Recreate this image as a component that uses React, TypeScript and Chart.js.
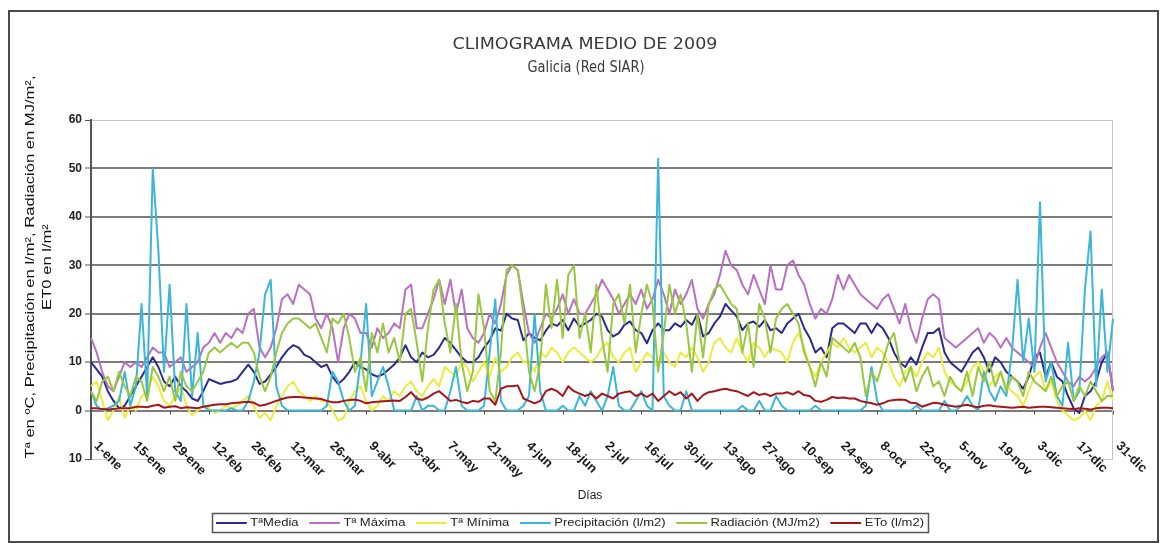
import React, { useEffect, useRef } from 'react';
import { Chart, registerables } from 'chart.js';

Chart.register(...registerables);

// Tick labels every 14 days (every 7th point, points are every 2 days)
const TICK_LABELS = [
  '1-ene', '15-ene', '29-ene', '12-feb', '26-feb', '12-mar', '26-mar', '9-abr', '23-abr',
  '7-may', '21-may', '4-jun', '18-jun', '2-jul', '16-jul', '30-jul', '13-ago', '27-ago',
  '10-sep', '24-sep', '8-oct', '22-oct', '5-nov', '19-nov', '3-dic', '17-dic', '31-dic',
];

const SERIES_NAMES = [
  'TªMedia', 'Tª Máxima', 'Tª Mínima', 'Precipitación (l/m2)', 'Radiación (MJ/m2)', 'ETo (l/m2)',
];

const T_MEDIA = [
  10, 8.5, 7, 4, 2, 0.5, 1, 3, 5, 7,
  9, 11, 9, 6, 5, 7, 5, 4, 2.5, 2,
  4, 6.5, 6, 5.5, 5.8, 6, 6.5, 8, 9.5, 8,
  5.5, 6, 7.5, 9, 11, 12.5, 13.5, 13, 11.5, 11,
  10, 9, 9.5, 7, 5.5, 6.5, 8, 10, 9, 8.5,
  7.5, 7, 7.5, 8.5, 9.5, 11, 13.5, 11, 10, 12,
  11, 11.5, 13, 15, 14, 12.5, 11, 10, 10, 11,
  13, 14.5, 17, 16.5, 20, 19, 18.7, 14.5, 16, 15,
  14.5, 16.5, 18, 17.5, 18.7, 16.6, 19, 17.3, 18, 18.7,
  20, 19.4, 16.6, 15.3, 16, 17.7, 18.4, 16.6, 16, 13.9,
  16.6, 18, 16.6, 16.6, 18, 17.3, 18.7, 17.7, 20, 15.3,
  16, 18, 19.4, 22, 20.7, 19.4, 16.6, 18, 18.4, 17.3,
  18.7, 16.6, 17, 16, 18, 19, 20, 17, 15, 12,
  13, 11, 17, 18, 18, 17, 16, 18, 18, 16,
  18, 17, 15, 12, 10, 9, 11, 9.5, 13, 16,
  16, 17, 12, 10, 9, 8, 10, 12, 13, 11,
  8, 11, 10, 8, 7, 6, 4.5, 7, 11, 12,
  7, 10, 7, 6, 3, 0.5, -0.5, 3, 4, 6,
  10, 12, 4,
];

const T_MAXIMA = [
  15, 12, 8, 5, 4, 7, 10, 9, 10, 9,
  11, 13, 12, 12, 9, 10, 11, 8, 9, 10,
  13, 14, 16, 14, 16, 15, 17, 16, 20, 21,
  13, 11, 13, 17, 23, 24, 22, 26, 25, 24,
  19, 17, 20, 17, 10, 17, 20, 19, 16, 16,
  13, 17, 15, 16, 18, 17, 25, 26, 17, 17,
  20, 23, 27, 22, 27, 20, 25, 17, 15, 14,
  16, 20, 18, 22, 28, 30, 29, 22, 16, 14,
  17, 20, 19, 21, 24, 20, 23, 20, 20, 22,
  24, 27, 25, 23, 20, 22, 24, 22, 25, 21,
  23, 27, 24, 20, 25, 22, 24, 27, 21, 19,
  22, 24, 28, 33, 30, 29, 26, 24, 28, 25,
  22, 30, 25, 25, 30, 31, 28, 26, 22, 19,
  21, 20, 23, 28, 25, 28, 26, 24, 23, 22,
  21, 23, 24, 21, 18, 22, 17, 14, 19, 23,
  24, 23, 15, 14, 13, 14, 15, 16, 17, 14,
  16, 15, 13, 15, 13, 12, 11, 10, 9, 13,
  16, 13, 10, 8, 6, 5, 7, 6, 7, 9,
  11, 12, 4,
];

const T_MINIMA = [
  5, 6, 2, -2, 0, 3, -1.5, 1, 0, 3,
  4, 7, 5, 2, 1, 3, 5, 1, -1, 0,
  1, 0.5, -0.5, 0, 1, 0.5, 1, 2, 3, 1,
  -1.5, -0.5, -2, 1, 3, 5, 6, 4, 3, 2,
  3, 2, 2, 0, -2, -1.5, 2, 4, 5, 2,
  0, 1, 3, 2, 4, 3, 5, 6, 4, 3,
  5, 6.5, 5, 9, 8, 7, 10, 9, 6, 8,
  10, 7, 11, 8, 9, 11, 12, 10, 10, 8,
  12, 11, 13, 12, 10, 12, 13, 12, 11, 10,
  11, 13, 14, 11, 10, 12, 13, 8, 10, 12,
  11, 9, 12, 10, 9, 12, 11, 13, 11, 8,
  10, 14, 15, 13, 12, 15, 12, 10, 14, 13,
  11, 13, 12.5, 12, 10, 14, 16, 13, 9, 7,
  10, 12, 14, 13, 15, 13, 12, 13, 14, 11,
  13, 12, 10, 7, 5, 8, 9, 7, 10, 12,
  11, 13, 8, 6, 5, 4, 6, 9, 10, 8,
  5, 7, 8, 5, 4, 3, 1, 4, 7, 8,
  4, 6, 2, 0, -1, -2, -1.5, 0, -2, 1,
  2, 6, 2,
];

const PRECIPITACION = [
  4, 1, 0, 0.5, 1, 2, 8, 1, 5, 22,
  3, 50, 33, 8, 26, 4, 2, 22, 3, 16,
  1, 0, 0, 0, 0, 0.5, 0, 0, 2, 6,
  12, 24, 27, 5, 1, 0, 0, 0, 0, 0,
  0, 0, 1, 8, 6, 2, 0, 1, 10, 22,
  3, 6, 9, 5, 0, 0, 0, 0, 3, 0,
  1, 1, 0, 0, 4, 9, 1, 0, 0, 0,
  1, 12, 23, 2, 0, 0, 0, 1, 3, 20,
  4, 0, 0, 0, 1, 0, 0, 3, 1, 4,
  2, 0, 3, 9, 1, 0, 0, 2, 4, 1,
  0, 52, 3, 1, 0, 0, 4, 0, 0, 0,
  0, 0, 0, 0, 0, 0, 1, 0, 0, 2,
  0, 0, 3, 1, 0, 0, 0, 0, 0, 1,
  0, 0, 0, 0, 0, 0, 0, 0, 1, 9,
  2, 0, 0, 0, 0, 0, 0, 1, 0, 0,
  0, 0, 2, 0, 0, 1, 3, 1, 0, 8,
  4, 2, 5, 3, 12, 27, 10, 19, 8, 43,
  6, 10, 3, 1, 14, 2, 4, 25, 37, 5,
  25, 8, 19,
];

const RADIACION = [
  4, 2, 6, 7, 4, 8, 5, 3, 7, 6,
  2, 9, 7, 4, 7, 2, 8, 5, 4, 6,
  8, 12, 13, 12, 13, 14, 13, 14, 14, 12,
  7, 4, 7, 12, 16, 18, 19, 19, 18, 17,
  18, 15, 12, 19, 18, 20, 15, 8, 11, 4,
  16, 12, 18, 12, 15, 10, 20, 21, 14, 6,
  17, 25, 27, 18, 12, 22, 10, 4, 8, 24,
  17, 4, 2, 12, 29, 30, 29, 20, 8, 4,
  10, 26, 17, 27, 15, 28, 30, 15, 20, 12,
  26, 15, 8, 22, 24, 18, 26, 12, 20, 26,
  22, 8, 16, 26, 20, 24, 18, 8, 20, 11,
  22, 25, 26, 24, 22, 21, 12, 18, 9, 22,
  19, 12, 19, 21, 22, 20, 18, 12, 9, 5,
  10, 7, 15, 14, 13, 12, 14, 11, 3, 8,
  6, 10, 14, 16, 10, 6, 9, 4, 7, 9,
  5, 6, 3, 7, 5, 4, 8, 3, 9, 6,
  10, 5, 8, 4, 7, 6, 3, 8, 6, 5,
  4, 7, 3, 5, 6, 2, 5, 3, 6, 4,
  2, 3, 3,
];

const ETO = [
  0.5, 0.5, 0.3, 0.2, 0.3, 0.5, 0.5, 0.5, 0.8, 0.8,
  0.7, 1, 1.2, 0.6, 0.8, 0.9, 0.5, 0.7, 0.6, 0.5,
  0.8, 1, 1.2, 1.3, 1.3, 1.5, 1.6, 1.7, 1.8, 1.6,
  1, 1.2, 1.6, 2, 2.4, 2.7, 2.8, 2.8, 2.7, 2.6,
  2.5, 2.4, 2, 1.7, 1.7, 2, 2.2, 2.3, 2, 1.5,
  1.7, 1.8, 1.9, 2, 2.1, 2, 2.8, 3.8, 2.5, 2.2,
  2.7, 3.5, 4, 3, 2, 2.2, 1.8, 1.5, 2, 1.8,
  2.5, 2.5, 1.2, 4.5, 5, 5, 5.2, 2.5, 2, 1.5,
  2, 4, 4.5, 4, 3, 5, 4, 3.5, 3, 3.5,
  2.5, 3.5, 3, 2.5, 3.5, 3.8, 4, 3, 3.5, 2.8,
  3.5, 2, 3, 4, 3.2, 3.8, 2.5, 3.5, 2, 3.2,
  3.8, 4, 4.3, 4.5, 4.2, 4, 3.5, 3, 3.8, 3.2,
  3.5, 3, 3.5, 3.5, 3.8, 3.3, 4, 3.2, 3, 2,
  1.8, 2.2, 2.8, 2.6, 2.7, 2.5, 2.5, 2, 1.7, 1.5,
  1.2, 1.5, 2, 2.2, 2.3, 2.2, 1.6, 1.5, 0.8, 1.2,
  1.6, 1.5, 1.2, 1, 0.8, 1, 1.2, 0.9, 0.7, 1,
  1.1, 0.9, 0.8, 0.7, 0.6, 0.7, 0.8, 0.6, 0.7, 0.8,
  0.8, 0.7, 0.6, 0.5, 0.4, 0.3, 0.5, 0.4, 0.2, 0.5,
  0.6, 0.6, 0.5,
];

const COLORS = ['#2b2b8e', '#b96fc4', '#ecec3e', '#3cb6d8', '#98c840', '#a4161c'];

// Day of year of each point (every second day)
const DAYS = T_MEDIA.map((_, i) => 1 + 2 * i);

const FONT = '"Liberation Sans", Arial, sans-serif';

function fitText(ctx: CanvasRenderingContext2D, text: string, x: number, y: number, width: number) {
  const w = ctx.measureText(text).width;
  const s = width / w;
  ctx.save();
  ctx.translate(x, y);
  ctx.scale(s, 1);
  ctx.textAlign = 'center';
  ctx.fillText(text, 0, 0);
  ctx.restore();
}

const overlay = {
  id: 'overlay',
  beforeDatasetsDraw(chart: any) {
    const ctx = chart.ctx as CanvasRenderingContext2D;
    const a = chart.chartArea;
    ctx.save();
    ctx.strokeStyle = '#c4c4c4';
    ctx.lineWidth = 1;
    ctx.beginPath();
    ctx.moveTo(a.right - 0.5, a.top);
    ctx.lineTo(a.right - 0.5, a.bottom);
    ctx.stroke();
    ctx.restore();
  },
  afterDraw(chart: any) {
    const ctx = chart.ctx as CanvasRenderingContext2D;
    const xs = chart.scales.x;
    const ys = chart.scales.y;
    ctx.save();

    // outer frame
    ctx.strokeStyle = '#4a4a4a';
    ctx.lineWidth = 2;
    ctx.strokeRect(9, 11, 1149, 531);

    // titles
    ctx.fillStyle = '#3a3a3a';
    ctx.textBaseline = 'middle';
    ctx.font = `15px "DejaVu Sans", ${FONT}`;
    fitText(ctx, 'CLIMOGRAMA MEDIO DE 2009', 585, 45, 265);
    fitText(ctx, 'Galicia (Red SIAR)', 586, 68, 117);

    // y-axis title (rotated)
    ctx.fillStyle = '#111';
    ctx.font = `13px ${FONT}`;
    const l1 = 'Tª en ºC, Precipitación en l/m², Radiación en MJ/m²,';
    const l2 = 'ET0 en l/m²';
    const w1 = ctx.measureText(l1).width;
    const s = 383 / w1;
    ctx.save();
    ctx.translate(30, 267);
    ctx.rotate(-Math.PI / 2);
    ctx.scale(s, 1);
    ctx.textAlign = 'center';
    ctx.fillText(l1, 0, 0);
    ctx.fillText(l2, 0, 17);
    ctx.restore();

    // x tick marks on the 0 line
    const y0 = ys.getPixelForValue(0);
    ctx.strokeStyle = '#555';
    ctx.lineWidth = 1;
    TICK_LABELS.forEach((_, k) => {
      const x = Math.round(xs.getPixelForValue(k * 7)) + 0.5;
      ctx.beginPath();
      ctx.moveTo(x, y0);
      ctx.lineTo(x, y0 + 4);
      ctx.stroke();
    });

    // x tick labels rotated 45° clockwise
    ctx.fillStyle = '#1a1a1a';
    ctx.font = `bold 13px ${FONT}`;
    ctx.textAlign = 'left';
    ctx.textBaseline = 'middle';
    TICK_LABELS.forEach((lab, k) => {
      const x = xs.getPixelForValue(k * 7);
      ctx.save();
      ctx.translate(x + 5, 444);
      ctx.rotate(Math.PI / 4);
      ctx.fillText(lab, 0, 0);
      ctx.restore();
    });

    // x axis title
    ctx.fillStyle = '#222';
    ctx.font = `12px ${FONT}`;
    ctx.textAlign = 'center';
    ctx.fillText('Días', 590, 496);

    // legend
    const boxL = 212, boxR = 928, boxT = 513, boxB = 532;
    ctx.font = `11px ${FONT}`;
    const lineLen = 26, gapA = 3, gapB = 9;
    let total = 0;
    SERIES_NAMES.forEach((n) => { total += lineLen + gapA + ctx.measureText(n).width + gapB; });
    total -= gapB;
    const f = (boxR - boxL - 8) / total;
    ctx.strokeStyle = '#555';
    ctx.lineWidth = 1.5;
    ctx.strokeRect(boxL + 0.5, boxT + 0.5, boxR - boxL, boxB - boxT);
    const cy = (boxT + boxB) / 2 + 0.5;
    ctx.save();
    ctx.translate(boxL + 4, 0);
    ctx.scale(f, 1);
    let x = 0;
    ctx.textAlign = 'left';
    ctx.textBaseline = 'middle';
    SERIES_NAMES.forEach((n, i) => {
      ctx.strokeStyle = COLORS[i];
      ctx.lineWidth = 2;
      ctx.beginPath();
      ctx.moveTo(x, cy);
      ctx.lineTo(x + lineLen, cy);
      ctx.stroke();
      x += lineLen + gapA;
      ctx.fillStyle = '#222';
      ctx.fillText(n, x, cy);
      x += ctx.measureText(n).width + gapB;
    });
    ctx.restore();

    ctx.restore();
  },
};

export default function App() {
  const ref = useRef<HTMLCanvasElement>(null);
  useEffect(() => {
    if (!ref.current) return;
    Chart.defaults.font.family = FONT;
    const series = [T_MEDIA, T_MAXIMA, T_MINIMA, PRECIPITACION, RADIACION, ETO];
    const chart = new Chart(ref.current, {
      type: 'line',
      data: {
        labels: DAYS,
        datasets: series.map((d, i) => ({
          label: SERIES_NAMES[i],
          data: d,
          borderColor: COLORS[i],
          backgroundColor: COLORS[i],
          borderWidth: 2,
          pointRadius: 0,
          tension: 0,
          fill: false,
          borderJoinStyle: 'round' as const,
          order: 5 - i,
        })),
      },
      options: {
        animation: false,
        responsive: false,
        maintainAspectRatio: false,
        events: [],
        layout: { padding: { left: 0, top: 120, right: 53, bottom: 84 } },
        plugins: {
          legend: { display: false },
          title: { display: false },
          tooltip: { enabled: false },
        },
        scales: {
          x: {
            type: 'category',
            display: false,
            offset: false,
          },
          y: {
            min: -10,
            max: 60,
            afterFit: (sc: any) => { sc.width = 91; },
            ticks: {
              stepSize: 10,
              padding: 3,
              color: '#222',
              font: { size: 12, weight: 'bold' },
              callback: (v: any) => String(Math.abs(Number(v))),
            },
            grid: {
              color: (c: any) => (c.tick && (c.tick.value === 60 || c.tick.value === -10) ? '#c4c4c4' : '#7c7c7c'),
              lineWidth: (c: any) => (c.tick && (c.tick.value === 60 || c.tick.value === -10) ? 1 : 2),
              tickColor: '#555',
              tickLength: 6,
              tickWidth: 1,
            },
            border: { display: true, color: '#555', width: 2 },
          },
        },
      },
      plugins: [overlay],
    });
    return () => chart.destroy();
  }, []);
  return (
    <div style={{ position: 'fixed', left: 0, top: 0, width: 1166, height: 543, background: '#fff' }}>
      <canvas ref={ref} width={1166} height={543} style={{ display: 'block' }} />
    </div>
  );
}
